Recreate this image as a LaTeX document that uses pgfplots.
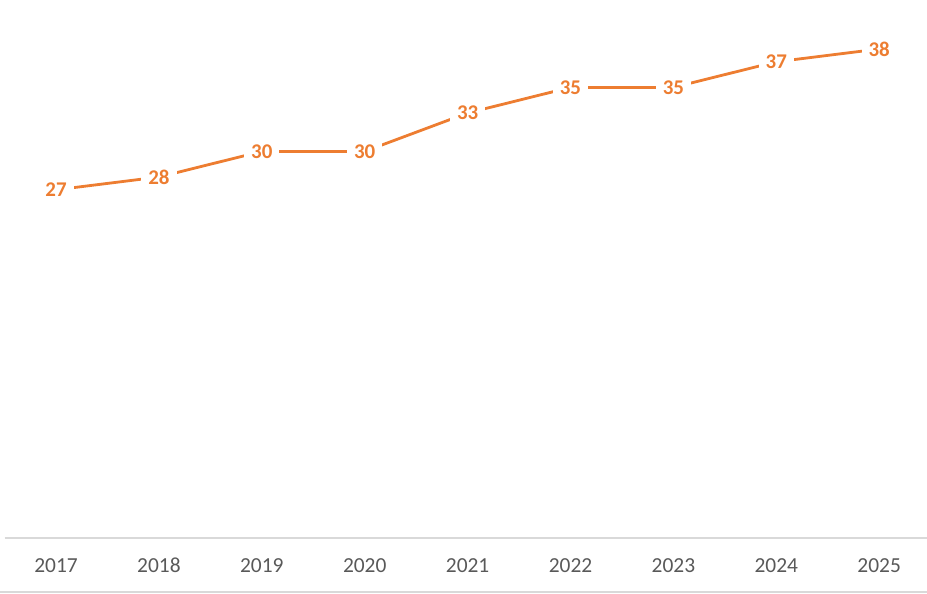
\documentclass[border=0pt]{standalone}
\usepackage{pgfplots}
\pgfplotsset{compat=1.18}
\usepackage{fontspec}
\setmainfont{Carlito}
\definecolor{accent}{HTML}{ED7D31}
\definecolor{ticktext}{HTML}{595959}
\definecolor{rule}{HTML}{D9D9D9}
\begin{document}
\begin{tikzpicture}
\path[use as bounding box] (-4.6bp,-56bp) rectangle (922.4bp,538bp);
\begin{axis}[
    scale only axis,
    width=922.4bp, height=514.6bp,
    xmin=-0.5, xmax=8.465,
    ymin=-0.2, ymax=40,
    axis x line=bottom,
    axis y line=none,
    axis line style={-, draw=rule, line width=1.3bp},
    xtick={0,...,8},
    xticklabels={2017,2018,2019,2020,2021,2022,2023,2024,2025},
    major tick length=0pt,
    xticklabel style={font=\fontsize{21.5}{25}\selectfont, text=ticktext,
        anchor=north, inner sep=0pt, text height=13.5bp, text depth=0pt, yshift=-20.5bp},
    /pgf/number format/assume math mode=true,
    nodes near coords,
    nodes near coords align={center},
    every node near coord/.append style={font=\fontsize{21}{25}\selectfont\bfseries,
        text=accent, fill=white, inner sep=7bp, anchor=center},
    clip=false,
]
\addplot[accent, line width=2.8bp, mark=none] coordinates {
    (0,27) (1,28) (2,30) (3,30) (4,33) (5,35) (6,35) (7,37) (8,38)
};
\end{axis}
\draw[rule, line width=1.3bp] (-4.6bp,-54bp) -- (922.4bp,-54bp);
\end{tikzpicture}
\end{document}
